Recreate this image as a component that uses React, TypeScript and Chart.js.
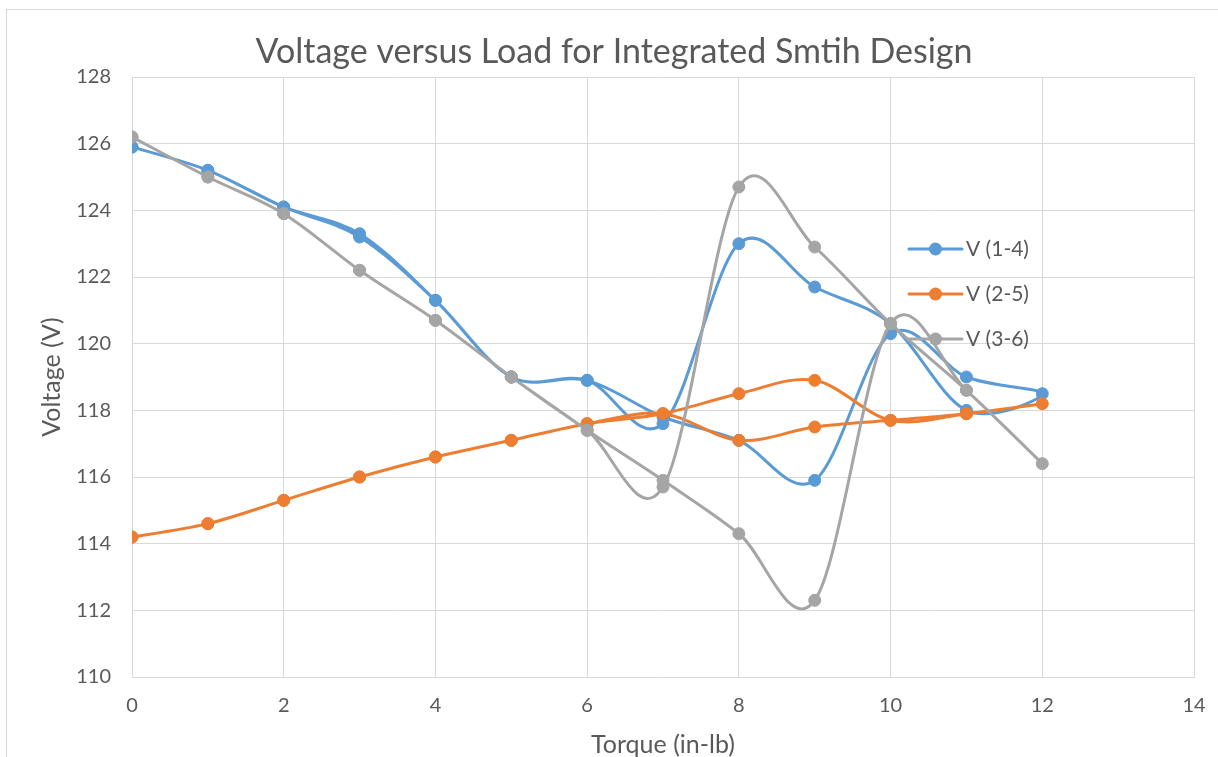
import React, { useEffect, useRef } from "react";
import { Chart, registerables } from "chart.js";

Chart.register(...registerables);

// Torque steps: load increased 0 → 12 in-lb, then released 12 → 0.
const torque = [0, 1, 2, 3, 4, 5, 6, 7, 8, 9, 10, 11, 12, 11, 10, 9, 8, 7, 6, 5, 4, 3, 2, 1, 0];

// Line-to-line voltages (V) at each torque step.
const v14 = [125.9, 125.2, 124.1, 123.3, 121.3, 119.0, 118.9, 117.6, 123.0, 121.7, 120.6, 118.0, 118.5,
  119.0, 120.3, 115.9, 117.1, 117.8, 118.9, 119.0, 121.3, 123.2, 124.1, 125.2, 125.9];
const v25 = [114.2, 114.6, 115.3, 116.0, 116.6, 117.1, 117.6, 117.9, 118.5, 118.9, 117.7, 117.9, 118.2,
  117.9, 117.7, 117.5, 117.1, 117.9, 117.6, 117.1, 116.6, 116.0, 115.3, 114.6, 114.2];
const v36 = [126.2, 125.0, 123.9, 122.2, 120.7, 119.0, 117.4, 115.7, 124.7, 122.9, 120.6, 118.6, 116.4,
  118.6, 120.6, 112.3, 114.3, 115.9, 117.4, 119.0, 120.7, 122.2, 123.9, 125.0, 126.2];

const seriesLabels = ["V (1-4)", "V (2-5)", "V (3-6)"];
const seriesValues = [v14, v25, v36];
const seriesColors = ["#5B9BD5", "#ED7D31", "#A5A5A5"];

const xAxis = { min: 0, max: 14, step: 2 };
const yAxis = { min: 110, max: 128, step: 2 };

const TEXT = "#595959";
const GRID = "#d9d9d9";
const FONT = "Lato, 'Open Sans', sans-serif";

// Smooth curves as uniform Catmull-Rom splines through the plotted points.
const smoothLines = {
  id: "smoothLines",
  beforeDatasetDraw(chart: any, args: any) {
    const meta = args.meta;
    const pts = meta.data;
    const n = pts.length;
    for (let i = 0; i < n; i++) {
      const cur = pts[i];
      const prev = pts[Math.max(0, i - 1)];
      const next = pts[Math.min(n - 1, i + 1)];
      const dx = (next.x - prev.x) / 6;
      const dy = (next.y - prev.y) / 6;
      cur.cp1x = cur.x - dx;
      cur.cp1y = cur.y - dy;
      cur.cp2x = cur.x + dx;
      cur.cp2y = cur.y + dy;
    }
    if (meta.dataset) meta.dataset._pointsUpdated = true;
  },
};

// Legend drawn inside the plot, to the right of the curves.
const insideLegend = {
  id: "insideLegend",
  afterDraw(chart: any) {
    const ctx = chart.ctx;
    const x0 = 909;
    const x1 = 962;
    const ys = [249, 294, 339];
    ctx.save();
    chart.data.datasets.forEach((ds: any, i: number) => {
      const y = ys[i];
      ctx.strokeStyle = ds.borderColor;
      ctx.lineWidth = 3;
      ctx.lineCap = "round";
      ctx.beginPath();
      ctx.moveTo(x0, y);
      ctx.lineTo(x1, y);
      ctx.stroke();
      ctx.fillStyle = ds.borderColor;
      ctx.beginPath();
      ctx.arc((x0 + x1) / 2, y, 6.5, 0, Math.PI * 2);
      ctx.fill();
      ctx.fillStyle = TEXT;
      ctx.font = `21px ${FONT}`;
      ctx.textBaseline = "middle";
      ctx.textAlign = "left";
      ctx.fillText(ds.label, 966, y);
    });
    ctx.restore();
  },
};

export default function App() {
  const canvasRef = useRef<HTMLCanvasElement | null>(null);

  useEffect(() => {
    const canvas = canvasRef.current;
    if (!canvas) return;
    const datasets = seriesLabels.map((label, s) => ({
      label,
      data: torque.map((t, i) => ({ x: t, y: seriesValues[s][i] })),
      borderColor: seriesColors[s],
      backgroundColor: seriesColors[s],
      borderWidth: 3,
      pointRadius: 6,
      pointBorderWidth: 1,
      pointBorderColor: seriesColors[s],
      pointBackgroundColor: seriesColors[s],
      tension: 0.4,
      fill: false,
      order: 2 - s,
    }));

    const chart = new Chart(canvas, {
      type: "line",
      data: { datasets },
      plugins: [smoothLines, insideLegend],
      options: {
        responsive: false,
        animation: false,
        devicePixelRatio: 1,
        layout: { padding: { left: 34, right: 24, top: 0, bottom: 0 } },
        plugins: {
          legend: { display: false },
          tooltip: { enabled: false },
          title: {
            display: true,
            text: "Voltage versus Load for Integrated Smtih Design",
            color: TEXT,
            font: { family: FONT, size: 34, weight: "normal", lineHeight: 1 },
            padding: { top: 35, bottom: 8 },
          },
        },
        scales: {
          x: {
            type: "linear",
            min: xAxis.min,
            max: xAxis.max,
            afterFit: (s: any) => {
              s.height = 80;
              s.paddingLeft = 0;
              s.paddingRight = 0;
            },
            ticks: { stepSize: xAxis.step, color: TEXT, font: { family: FONT, size: 20 }, padding: 17 },
            grid: { color: GRID, drawTicks: false },
            border: { color: GRID },
            title: {
              display: true,
              text: "Torque (in-lb)",
              color: TEXT,
              font: { family: FONT, size: 25, lineHeight: 1 },
              padding: { top: 0, bottom: 0 },
            },
          },
          y: {
            type: "linear",
            min: yAxis.min,
            max: yAxis.max,
            afterFit: (s: any) => {
              s.width = 98;
              s.paddingTop = 0;
              s.paddingBottom = 0;
            },
            ticks: { stepSize: yAxis.step, color: TEXT, font: { family: FONT, size: 20 }, padding: 21 },
            grid: { color: GRID, drawTicks: false },
            border: { color: GRID },
            title: {
              display: true,
              text: "Voltage (V)",
              color: TEXT,
              font: { family: FONT, size: 25, lineHeight: 1 },
              padding: { top: 5, bottom: 0 },
            },
          },
        },
      },
    });
    return () => chart.destroy();
  }, []);

  return (
    <div style={{ position: "absolute", left: 0, top: 0, width: 1218, height: 757, background: "#fff", overflow: "hidden" }}>
      <div
        style={{
          position: "absolute",
          left: 6,
          top: 9,
          width: 1220,
          height: 760,
          borderLeft: `1px solid ${GRID}`,
          borderTop: `1px solid ${GRID}`,
        }}
      />
      <canvas ref={canvasRef} width={1218} height={757} style={{ position: "absolute", left: 0, top: 0 }} />
    </div>
  );
}
